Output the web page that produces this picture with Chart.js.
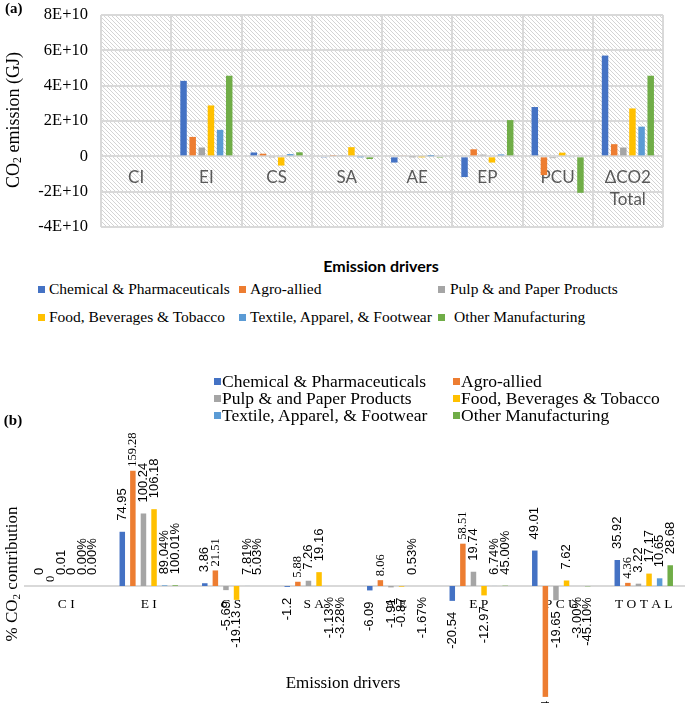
<!DOCTYPE html>
<html>
<head>
<meta charset="utf-8">
<script src="https://cdn.jsdelivr.net/npm/chart.js@4.4.1/dist/chart.umd.min.js"></script>
<style>
  body { margin: 0; background: #fff; }
  #wrap { position: relative; width: 685px; height: 703px; overflow: hidden; font-family: "Liberation Serif", "Times New Roman", serif; color: #000; }
  canvas { position: absolute; left: 0; }
  .abs { position: absolute; white-space: nowrap; }
  .mid { transform: translate(-50%, -50%); }
  .rot { transform: translate(-50%, -50%) rotate(-90deg); }
  .key { position: absolute; width: 7px; height: 7px; }
  sub { font-size: 0.65em; vertical-align: -0.25em; line-height: 0; }
</style>
</head>
<body>
<div id="wrap">
  <canvas id="chartA" width="685" height="258" style="top:-8px"></canvas>
  <canvas id="chartB" width="685" height="363" style="top:340px"></canvas>

  <div class="abs" style="left:5px;top:0;font-weight:bold;font-size:15px">(a)</div>
  <div class="abs rot" style="left:13px;top:120px;font-size:18px">CO<sub>2</sub> emission (GJ)</div>
  <div class="abs mid" style="left:381px;top:265px;font-family:Lato,sans-serif;font-weight:bold;font-size:16px">Emission drivers</div>
  <div id="legendA"></div>

  <div class="abs mid" style="left:13px;top:420px;font-weight:bold;font-size:15px">(b)</div>
  <div id="legendB"></div>
  <div class="abs rot" style="left:12px;top:574px;font-size:17px">% CO<sub>2</sub> contribution</div>
  <div class="abs mid" style="left:343px;top:683px;font-size:17px">Emission drivers</div>
</div>

<script>
// Categories (emission drivers)
const categories = ["CI", "EI", "CS", "SA", "AE", "EP", "PCU", "TOTAL"];
const categoriesA = ["CI", "EI", "CS", "SA", "AE", "EP", "PCU", ["\u0394CO2", "Total"]];

// Sectors
const sectors = [
  "Chemical & Pharmaceuticals",
  "Agro-allied",
  "Pulp & and Paper Products",
  "Food, Beverages & Tobacco",
  "Textile, Apparel, & Footwear",
  "Other Manufacturing",
];
const colors = ["#4472C4", "#ED7D31", "#A5A5A5", "#FFC000", "#5B9BD5", "#70AD47"];

// (a) CO2 emission (GJ)
const chemA = [0, 4.27e10, 0.22e10, -0.07e10, -0.35e10, -1.17e10, 2.79e10, 5.7e10];
const agroA = [0, 1.1e10, 0.15e10, 0.04e10, 0.06e10, 0.4e10, -1.06e10, 0.69e10];
const pulpA = [0, 0.5e10, -0.03e10, 0.04e10, -0.01e10, 0.1e10, -0.1e10, 0.5e10];
const foodA = [0, 2.88e10, -0.52e10, 0.52e10, -0.02e10, -0.35e10, 0.21e10, 2.71e10];
const textA = [0, 1.5e10, 0.13e10, -0.02e10, 0.01e10, 0.11e10, -0.05e10, 1.68e10];
const otherA = [0, 4.56e10, 0.23e10, -0.15e10, -0.08e10, 2.05e10, -2.06e10, 4.56e10];
const yTicksA = [-4e10, -2e10, 0, 2e10, 4e10, 6e10, 8e10];

// (b) % CO2 contribution
const chemB = [0, 74.95, 3.86, -1.2, -6.09, -20.54, 49.01, 35.92];
const agroB = [0, 159.28, 21.51, 5.88, 8.06, 58.51, -153.24, 4.36];
const pulpB = [0.01, 100.24, -5.69, 7.26, -1.91, 19.74, -19.65, 3.22];
const foodB = [0, 106.18, -19.13, 19.16, -0.87, -12.97, 7.62, 17.17];
const textB = [0, 0.8904, 0.0781, -0.0113, 0.0053, 0.0674, -0.03, 10.65];
const otherB = [0, 1.0001, 0.0503, -0.0328, -0.0167, 0.45, -0.451, 28.68];
// last two series show their driver values as percentages (all but TOTAL)
const percentSeries = [4, 5];
const percentCats = 7;

const serif = "'Liberation Serif', 'Times New Roman', serif";
const gridGray = "#d9d9d9";

// Legends (html)
function buildLegend(id, cols, rows, size, textGap) {
  const box = document.getElementById(id);
  let html = "";
  sectors.forEach(function (name, i) {
    const r = rows[Math.floor(i / cols.length)];
    const c = cols[i % cols.length];
    const gap = textGap[i] || textGap[0];
    html +=
      '<div class="key" style="left:' + c + "px;top:" + (r - 3.5) + "px;background:" + colors[i] + '"></div>' +
      '<div class="abs" style="left:' + (c + gap) + "px;top:" + r + "px;font-size:" + size +
      'px;transform:translateY(-50%)">' + name.replace(/&/g, "&amp;") + "</div>";
  });
  box.innerHTML = html;
}
buildLegend("legendA", [38, 239, 438], [289, 317], 15.5, [11, 11, 12, 11, 11, 16]);
buildLegend("legendB", [214, 453], [381, 398, 415], 17.5, [8]);

// Hatched plot background for (a)
const hatchPlugin = {
  id: "hatch",
  beforeDraw(chart) {
    const a = chart.chartArea;
    const tile = document.createElement("canvas");
    tile.width = 4;
    tile.height = 4;
    const t = tile.getContext("2d");
    t.fillStyle = "#d4d4d4";
    for (let i = 0; i < 4; i++) t.fillRect(i, i, 1, 1);
    const ctx = chart.ctx;
    ctx.save();
    ctx.fillStyle = ctx.createPattern(tile, "repeat");
    ctx.fillRect(a.left, a.top, a.right - a.left, a.bottom - a.top);
    ctx.restore();
  },
};

// Rotated value labels for (b)
function labelText(v, ds, ci) {
  if (percentSeries.indexOf(ds) >= 0 && ci < percentCats) return (v * 100).toFixed(2) + "%";
  return String(Number(v.toFixed(2)));
}
const valueLabels = {
  id: "valueLabels",
  afterDatasetsDraw(chart) {
    const ctx = chart.ctx;
    chart.data.datasets.forEach(function (ds, di) {
      const meta = chart.getDatasetMeta(di);
      meta.data.forEach(function (bar, ci) {
        const v = ds.data[ci];
        const gap = ds.labelGap;
        ctx.save();
        ctx.font = ds.labelFont;
        ctx.fillStyle = "#000";
        ctx.textBaseline = "middle";
        let y;
        if (v >= 0) {
          y = Math.min(bar.y, bar.base) - gap;
          ctx.textAlign = "left";
        } else {
          y = Math.max(bar.y, bar.base) + gap;
          ctx.textAlign = "right";
        }
        ctx.translate(bar.x, y);
        ctx.rotate(-Math.PI / 2);
        ctx.fillText(labelText(v, di, ci), 0, 0);
        ctx.restore();
      });
    });
  },
};

// Chart (a)
const seriesA = [chemA, agroA, pulpA, foodA, textA, otherA];
new Chart(document.getElementById("chartA"), {
  type: "bar",
  data: {
    labels: categoriesA,
    datasets: seriesA.map(function (d, i) {
      return {
        label: sectors[i],
        data: d,
        backgroundColor: colors[i],
        categoryPercentage: 0.78,
        barPercentage: 0.71,
      };
    }),
  },
  options: {
    responsive: false,
    animation: false,
    layout: { padding: { top: 4, bottom: 5, right: 22, left: 0 } },
    plugins: { legend: { display: false }, tooltip: { enabled: false } },
    scales: {
      x: {
        position: { y: 0 },
        grid: { color: gridGray, lineWidth: 2, offset: true, drawTicks: false },
        border: { display: false },
        ticks: {
          padding: 11,
          color: "#595959",
          font: { family: "Lato, sans-serif", size: 17, lineHeight: 1.25 },
          maxRotation: 0,
          autoSkip: false,
        },
      },
      y: {
        min: -4e10,
        max: 8e10,
        afterFit(scale) { scale.width = 101; },
        afterBuildTicks(scale) { scale.ticks = yTicksA.map(function (v) { return { value: v }; }); },
        grid: { color: gridGray, lineWidth: 2, drawTicks: false },
        border: { display: false },
        ticks: {
          padding: 13,
          color: "#000",
          font: { family: serif, size: 16.5 },
          callback: function (v) { return v === 0 ? "0" : v / 1e10 + "E+10"; },
        },
      },
    },
  },
  plugins: [hatchPlugin],
});

// Chart (b)
const seriesB = [chemB, agroB, pulpB, foodB, textB, otherB];
new Chart(document.getElementById("chartB"), {
  type: "bar",
  data: {
    labels: categories,
    datasets: seriesB.map(function (d, i) {
      return {
        label: sectors[i],
        data: d,
        backgroundColor: colors[i],
        categoryPercentage: 0.77,
        barPercentage: 0.52,
        labelFont: i === 1 ? "12.5px " + serif : "13px 'Liberation Sans', Arial, sans-serif",
        labelGap: i === 1 ? 4 : 11,
      };
    }),
  },
  options: {
    responsive: false,
    animation: false,
    layout: { padding: { top: 100, bottom: 6, left: 25, right: 0 } },
    plugins: { legend: { display: false }, tooltip: { enabled: false } },
    scales: {
      x: {
        position: { y: 0 },
        grid: { display: false },
        border: { display: true, color: gridGray, width: 2 },
        ticks: {
          padding: 2,
          color: "#000",
          font: { family: serif, size: 13.5 },
          maxRotation: 0,
          autoSkip: false,
          callback: function (v) { return this.getLabelForValue(v).split("").join(" "); },
        },
      },
      y: { display: false, min: -153.4, max: 201.8 },
    },
  },
  plugins: [valueLabels],
});
</script>
</body>
</html>
